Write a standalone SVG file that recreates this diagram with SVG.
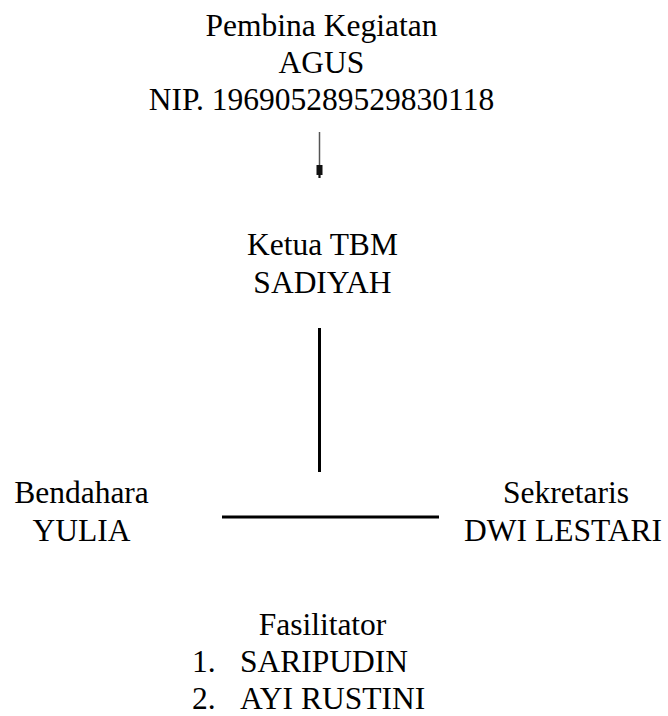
<svg xmlns="http://www.w3.org/2000/svg" width="668" height="716" viewBox="0 0 668 716">
<style>
text{font-family:"Liberation Serif","Times New Roman",Tinos,"DejaVu Serif",serif;font-size:31.5px;fill:#000}
.c{text-anchor:middle}
</style>
<rect width="668" height="716" fill="#fff"/>
<g id="pembina">
<text class="c" x="321.5" y="36">Pembina Kegiatan</text>
<text class="c" x="321.5" y="73">AGUS</text>
<text class="c" x="321.5" y="110">NIP. 196905289529830118</text>
</g>
<g id="ketua">
<text class="c" x="322.5" y="255">Ketua TBM</text>
<text class="c" x="322.5" y="293">SADIYAH</text>
</g>
<g id="bendahara">
<text class="c" x="81.5" y="503">Bendahara</text>
<text class="c" x="81.5" y="541">YULIA</text>
</g>
<g id="sekretaris">
<text class="c" x="566" y="503">Sekretaris</text>
<text class="c" x="563" y="541">DWI LESTARI</text>
</g>
<g id="fasilitator">
<text class="c" x="322.5" y="635">Fasilitator</text>
<text x="192" y="672">1.</text>
<text x="240" y="672">SARIPUDIN</text>
<text x="192" y="709">2.</text>
<text x="240" y="709">AYI RUSTINI</text>
</g>
<g id="connectors">
<line x1="319.5" y1="132" x2="319.5" y2="178" stroke="#555" stroke-width="1.5"/>
<polygon points="316.5,165 322.5,165 322.5,175 320.5,175 320.5,178 318.5,178 318.5,175 316.5,175" fill="#111"/>
<line x1="319.5" y1="328" x2="319.5" y2="472" stroke="#000" stroke-width="3"/>
<line x1="222" y1="517" x2="439" y2="517" stroke="#000" stroke-width="3"/>
</g>
</svg>
